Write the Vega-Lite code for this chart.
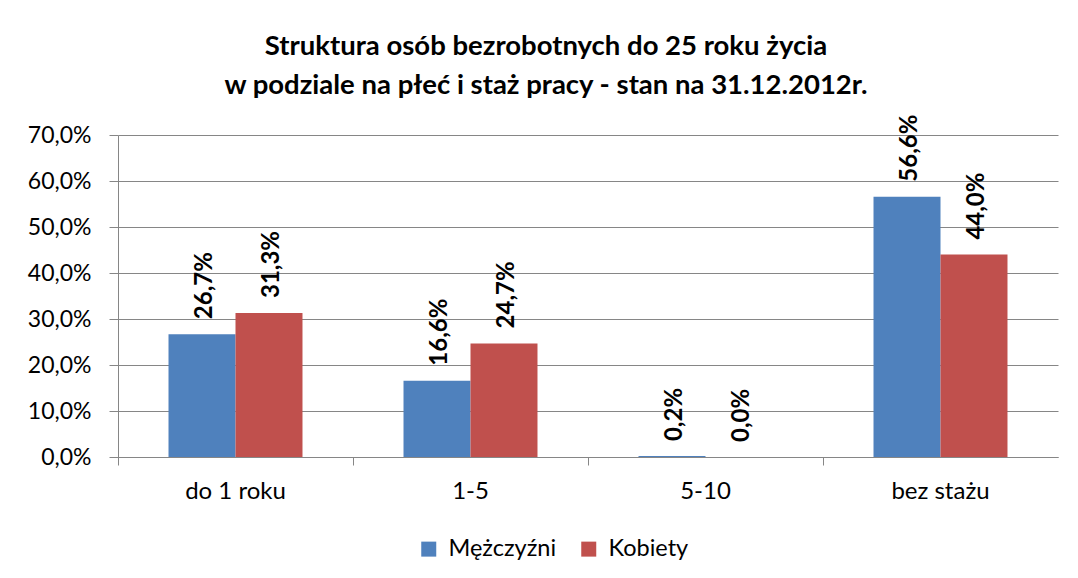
{
  "$schema": "https://vega.github.io/schema/vega-lite/v6.json",
  "autosize": {"type": "none"},
  "width": 940,
  "height": 322,
  "padding": {"left": 118, "top": 135, "right": 20, "bottom": 121},
  "background": "white",
  "config": {
    "locale": {"number": {"decimal": ",", "thousands": " ", "grouping": [3], "currency": ["", " zł"]}},
    "view": {"stroke": null},
    "font": "Lato"
  },
  "title": {
    "text": ["Struktura osób bezrobotnych do 25 roku życia", "w podziale na płeć i staż pracy - stan na 31.12.2012r."],
    "fontSize": 27.5,
    "fontWeight": "bold",
    "font": "Lato",
    "color": "black",
    "anchor": "middle",
    "lineHeight": 39,
    "offset": 15,
    "dx": -42
  },
  "data": {
    "values": [
      {"staz": "do 1 roku", "plec": "Mężczyźni", "wartosc": 0.267},
      {"staz": "do 1 roku", "plec": "Kobiety", "wartosc": 0.313},
      {"staz": "1-5", "plec": "Mężczyźni", "wartosc": 0.166},
      {"staz": "1-5", "plec": "Kobiety", "wartosc": 0.247},
      {"staz": "5-10", "plec": "Mężczyźni", "wartosc": 0.002},
      {"staz": "5-10", "plec": "Kobiety", "wartosc": 0.0},
      {"staz": "bez stażu", "plec": "Mężczyźni", "wartosc": 0.566},
      {"staz": "bez stażu", "plec": "Kobiety", "wartosc": 0.44}
    ]
  },
  "encoding": {
    "x": {
      "field": "staz",
      "type": "nominal",
      "sort": ["do 1 roku", "1-5", "5-10", "bez stażu"],
      "scale": {"paddingInner": 0, "paddingOuter": 0},
      "axis": {
        "title": null,
        "bandPosition": 0,
        "labelAngle": 0,
        "labelOverlap": false,
        "labelBound": false,
        "labelFontSize": 24,
        "labelColor": "black",
        "labelPadding": 14,
        "tickSize": 8,
        "tickColor": "#868686",
        "domainColor": "#868686",
        "grid": false
      }
    },
    "xOffset": {
      "field": "plec",
      "type": "nominal",
      "sort": ["Mężczyźni", "Kobiety"],
      "scale": {"paddingInner": 0, "paddingOuter": 0.754}
    },
    "y": {
      "field": "wartosc",
      "type": "quantitative",
      "scale": {"domain": [0, 0.7], "nice": false},
      "axis": {
        "title": null,
        "format": ".1%",
        "values": [0, 0.1, 0.2, 0.3, 0.4, 0.5, 0.6, 0.7],
        "grid": true,
        "gridColor": "#868686",
        "tickColor": "#868686",
        "domainColor": "#868686",
        "tickSize": 9,
        "labelPadding": 18,
        "labelFontSize": 23,
        "labelColor": "black"
      }
    }
  },
  "layer": [
    {
      "mark": {"type": "bar"},
      "encoding": {
        "color": {
          "field": "plec",
          "type": "nominal",
          "sort": ["Mężczyźni", "Kobiety"],
          "scale": {"domain": ["Mężczyźni", "Kobiety"], "range": ["#4F81BD", "#C0504D"]},
          "legend": {
            "title": null,
            "orient": "none",
            "direction": "horizontal",
            "legendX": 299,
            "legendY": 402,
            "symbolType": "square",
            "symbolSize": 225,
            "symbolStrokeWidth": 0,
            "labelFontSize": 23.5,
            "labelColor": "black",
            "labelOffset": 8,
            "columnPadding": 20,
            "padding": 0
          }
        }
      }
    },
    {
      "mark": {"type": "text", "angle": 270, "align": "left", "baseline": "middle", "dx": 15, "dy": 3, "fontWeight": "bold", "fontSize": 24, "color": "black"},
      "encoding": {
        "text": {"field": "wartosc", "type": "quantitative", "format": ".1%"}
      }
    }
  ]
}
